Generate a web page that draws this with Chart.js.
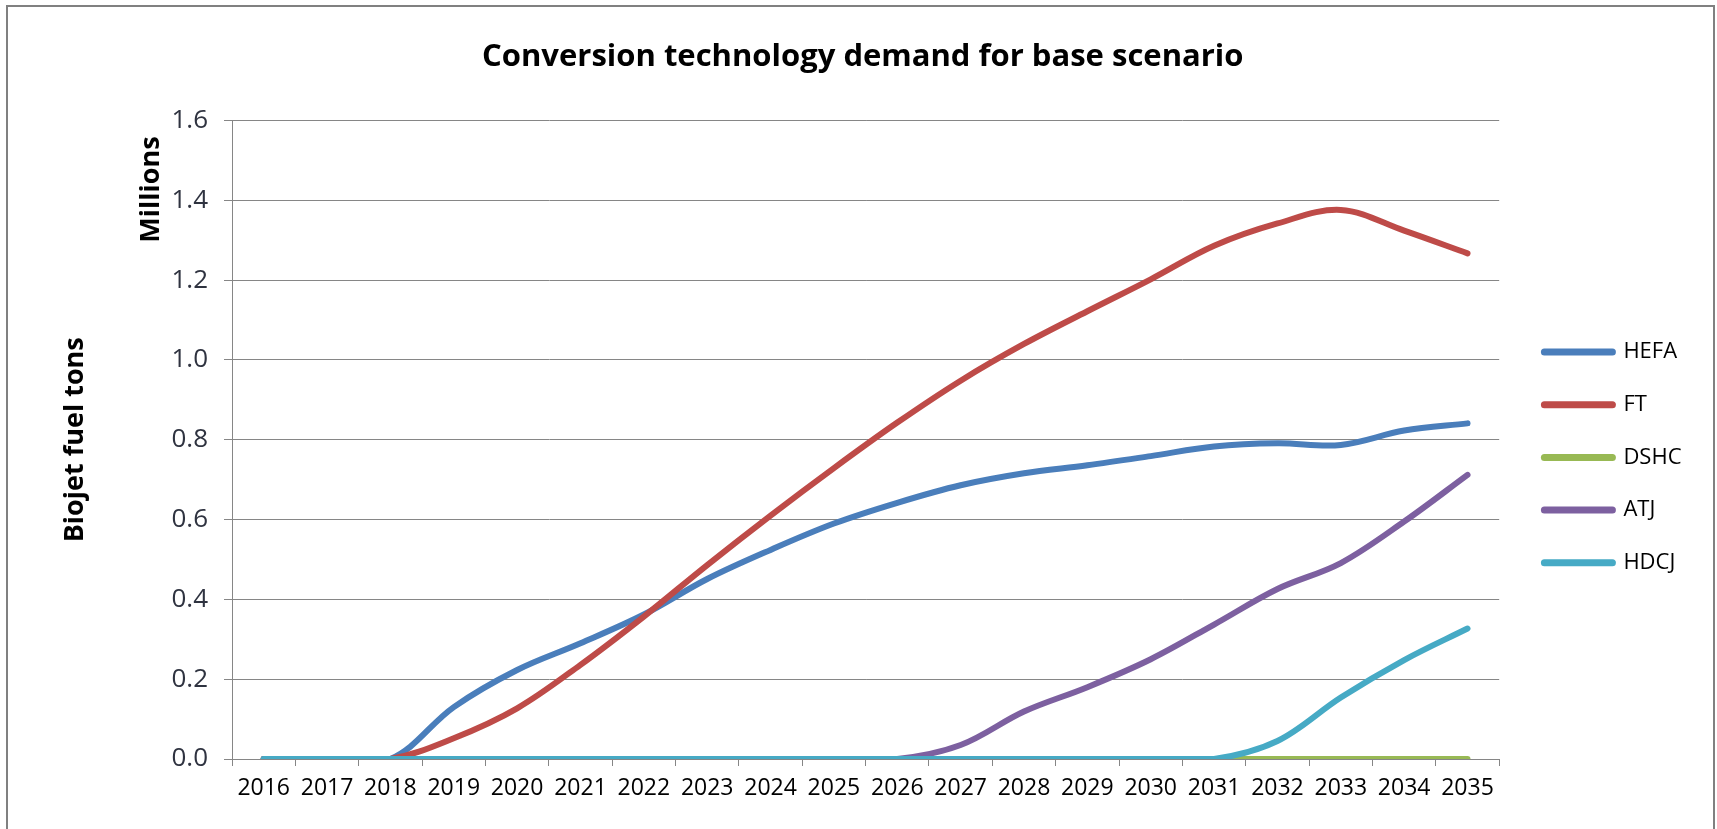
<!DOCTYPE html>
<html>
<head>
<meta charset="utf-8">
<script src="https://cdn.jsdelivr.net/npm/chart.js@4.4.1/dist/chart.umd.min.js"></script>
<style>
  html, body { margin: 0; padding: 0; background: #ffffff; }
  #wrap { position: relative; width: 1717px; height: 829px; overflow: hidden; }
  #frame { position: absolute; left: 6px; top: 5px; width: 1705px; height: 900px; border: 2px solid #808080; pointer-events: none; }
</style>
</head>
<body>
<div id="wrap">
  <canvas id="c" width="1717" height="829"></canvas>
  <div id="frame"></div>
</div>
<script>
const years = ['2016','2017','2018','2019','2020','2021','2022','2023','2024','2025','2026','2027','2028','2029','2030','2031','2032','2033','2034','2035'];
const hefa = [0, 0, 0, 0.130, 0.223, 0.290, 0.362, 0.451, 0.524, 0.590, 0.642, 0.686, 0.716, 0.736, 0.759, 0.783, 0.791, 0.787, 0.823, 0.841];
const ft   = [0, 0, 0, 0.052, 0.127, 0.236, 0.357, 0.486, 0.610, 0.729, 0.843, 0.948, 1.040, 1.122, 1.202, 1.286, 1.342, 1.376, 1.324, 1.267];
const dshc = [0, 0, 0, 0, 0, 0, 0, 0, 0, 0, 0, 0, 0, 0, 0, 0, 0, 0, 0, 0];
const atj  = [0, 0, 0, 0, 0, 0, 0, 0, 0, 0, 0, 0.035, 0.119, 0.180, 0.250, 0.337, 0.426, 0.491, 0.595, 0.712];
const hdcj = [0, 0, 0, 0, 0, 0, 0, 0, 0, 0, 0, 0, 0, 0, 0, 0, 0.045, 0.154, 0.248, 0.327];
const yTicks = [0, 0.2, 0.4, 0.6, 0.8, 1.0, 1.2, 1.4, 1.6];

const seriesNames = ['HEFA', 'FT', 'DSHC', 'ATJ', 'HDCJ'];
const seriesData = [hefa, ft, dshc, atj, hdcj];
const seriesColors = ['#4A7EBB', '#BE4B48', '#98B954', '#7D60A0', '#46AAC5'];

const FONT = "'Open Sans', 'DejaVu Sans', sans-serif";

const datasets = seriesNames.map((name, i) => ({
  label: name,
  data: seriesData[i],
  borderColor: seriesColors[i],
  backgroundColor: seriesColors[i],
  borderWidth: 6,
  borderCapStyle: 'round',
  borderJoinStyle: 'round',
  pointRadius: 0,
  pointHoverRadius: 0,
  fill: false,
  tension: 0.35,
  order: seriesNames.length - i
}));

const millionsPlugin = {
  id: 'millions',
  afterDraw(chart) {
    const ctx = chart.ctx;
    const ca = chart.chartArea;
    ctx.save();
    ctx.font = "bold 27px " + FONT;
    ctx.fillStyle = '#000000';
    ctx.textAlign = 'center';
    ctx.textBaseline = 'middle';
    ctx.translate(ca.left - 81, ca.top + 69);
    ctx.rotate(-Math.PI / 2);
    ctx.fillText('Millions', 0, 0);
    ctx.restore();
  }
};

new Chart(document.getElementById('c'), {
  type: 'line',
  data: { labels: years, datasets: datasets },
  plugins: [millionsPlugin],
  options: {
    responsive: false,
    devicePixelRatio: 1,
    animation: false,
    events: [],
    layout: { padding: { left: 34, right: 25.5, top: 0, bottom: 0 } },
    plugins: {
      tooltip: { enabled: false },
      title: {
        display: true,
        text: 'Conversion technology demand for base scenario',
        color: '#000000',
        font: { family: FONT, size: 31, weight: 'bold', lineHeight: 1.2 },
        padding: { top: 38.4, bottom: 44.9 }
      },
      legend: {
        display: true,
        position: 'right',
        fullSize: true,
        title: { display: true, text: '', font: { size: 12, lineHeight: 1.2 }, padding: { top: 71.4, bottom: 0 } },
        labels: {
          usePointStyle: true,
          pointStyle: 'line',
          pointStyleWidth: 68,
          color: '#000000',
          font: { family: FONT, size: 22 },
          padding: 30.7,
          sort: (a, b) => a.datasetIndex - b.datasetIndex,
          generateLabels(chart) {
            const items = Chart.defaults.plugins.legend.labels.generateLabels(chart);
            items.forEach(it => { it.lineWidth = 7; it.lineCap = 'round'; });
            return items;
          }
        }
      }
    },
    scales: {
      x: {
        type: 'category',
        offset: true,
        grid: { display: true, offset: true, drawOnChartArea: false, drawTicks: true, tickLength: 7, color: '#868686', lineWidth: 1 },
        border: { display: true, color: '#868686', width: 1 },
        ticks: { color: '#000000', font: { family: FONT, size: 23 }, padding: 9, maxRotation: 0, autoSkip: false },
        afterFit(s) { s.height = 70; }
      },
      y: {
        type: 'linear',
        position: 'left',
        min: 0,
        max: 1.6,
        afterBuildTicks(s) { s.ticks = yTicks.map(v => ({ value: v })); },
        grid: { display: true, drawTicks: true, tickLength: 8, color: '#868686', lineWidth: 1 },
        border: { display: true, color: '#868686', width: 1 },
        ticks: { color: '#2f3340', font: { family: FONT, size: 26 }, padding: 16, callback: v => Number(v).toFixed(1) },
        title: { display: true, text: 'Biojet fuel tons', color: '#000000', font: { family: FONT, size: 27, weight: 'bold', lineHeight: 1.2 }, padding: { top: 25, bottom: 0 } },
        afterFit(s) { s.width = 198; }
      },
      yR: {
        type: 'linear',
        position: 'right',
        min: 0,
        max: 1,
        display: true,
        grid: { display: false, drawTicks: false },
        border: { display: false },
        ticks: { display: false },
        afterFit(s) { s.width = 14.5; }
      }
    }
  }
});
</script>
</body>
</html>
